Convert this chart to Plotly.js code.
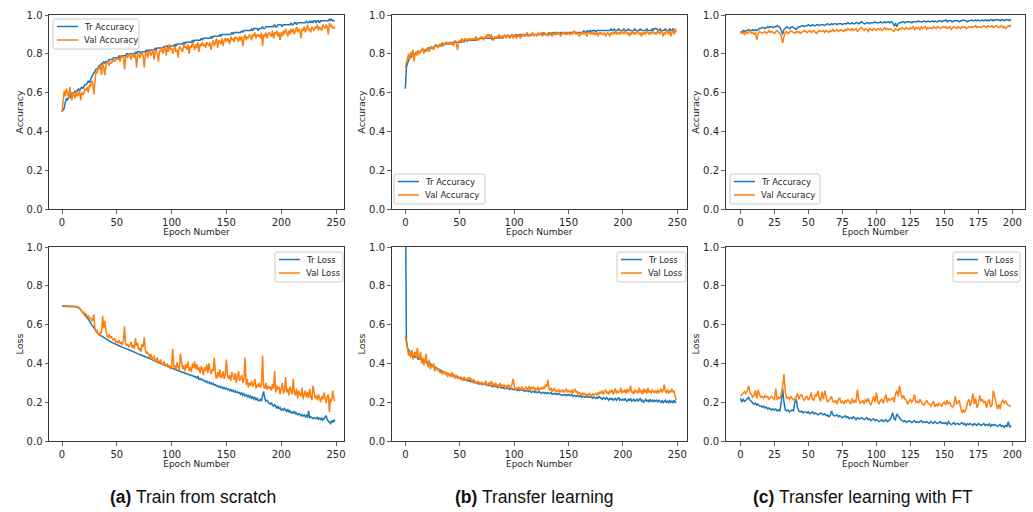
<!DOCTYPE html>
<html>
<head>
<meta charset="utf-8">
<script src="https://cdn.plot.ly/plotly-3.0.1.min.js"></script>
<style>
html,body{margin:0;padding:0;background:#fff;}
#chart{width:1033px;height:512px;}
</style>
</head>
<body>
<div id="chart"></div>
<script>
// ---------- (a) Train from scratch ----------
const trAccA = [
.50,.51,.52,.55,.57,.56,.58,.59,.57,.60,
.59,.60,.61,.60,.61,.62,.61,.62,.63,.62,
.63,.64,.64,.65,.66,.65,.67,.68,.69,.70,
.71,.72,.72,.73,.74,.74,.75,.75,.76,.75,
.76,.76,.76,.77,.77,.77,.77,.78,.78,.78,
.78,.78,.79,.78,.79,.79,.79,.79,.79,.80,
.80,.79,.80,.80,.80,.80,.80,.81,.80,.81,
.81,.81,.80,.81,.81,.81,.81,.82,.81,.82,
.82,.82,.82,.82,.82,.83,.82,.83,.83,.83,
.83,.83,.83,.84,.83,.84,.84,.83,.84,.84,
.84,.84,.84,.85,.84,.85,.85,.85,.85,.85,
.85,.86,.85,.86,.86,.86,.86,.86,.86,.87,
.86,.87,.87,.87,.87,.87,.87,.88,.87,.88,
.88,.88,.88,.88,.88,.88,.89,.88,.89,.89,
.89,.89,.89,.89,.90,.89,.90,.90,.90,.90,
.90,.90,.90,.90,.90,.91,.90,.91,.91,.91,
.91,.91,.91,.91,.92,.91,.92,.92,.92,.92,
.92,.92,.92,.93,.92,.93,.93,.93,.93,.92,
.93,.93,.93,.94,.93,.93,.94,.94,.94,.94,
.94,.94,.94,.94,.95,.94,.94,.95,.95,.95,
.95,.94,.95,.95,.95,.95,.95,.95,.95,.96,
.95,.95,.96,.96,.95,.96,.96,.96,.96,.96,
.96,.96,.96,.97,.96,.96,.97,.96,.97,.96,
.97,.97,.96,.97,.97,.96,.97,.97,.97,.97,
.97,.97,.97,.97,.98,.97,.98,.97,.97,.97];
const valAccA = [
.50,.55,.61,.58,.62,.60,.57,.63,.58,.56,
.60,.58,.57,.61,.58,.59,.61,.56,.60,.59,
.60,.62,.61,.63,.60,.64,.63,.66,.65,.59,
.68,.71,.70,.73,.72,.74,.69,.75,.73,.69,
.74,.76,.75,.74,.76,.75,.76,.77,.76,.77,
.78,.77,.78,.76,.79,.78,.79,.72,.78,.79,
.78,.80,.79,.77,.80,.79,.78,.80,.73,.79,
.80,.78,.80,.81,.79,.73,.80,.81,.78,.80,
.82,.79,.81,.82,.77,.81,.82,.80,.76,.82,
.81,.83,.80,.82,.84,.79,.83,.81,.85,.82,
.83,.80,.82,.84,.81,.82,.78,.84,.83,.82,
.81,.85,.83,.84,.82,.85,.80,.84,.83,.86,
.84,.82,.85,.83,.86,.81,.85,.84,.86,.84,
.85,.83,.86,.85,.84,.86,.82,.85,.87,.84,
.86,.88,.83,.87,.86,.85,.88,.84,.87,.88,
.86,.88,.87,.85,.89,.87,.88,.86,.89,.88,
.88,.86,.89,.87,.89,.84,.88,.90,.87,.89,
.88,.90,.89,.87,.90,.89,.91,.88,.90,.89,
.90,.88,.91,.84,.90,.89,.91,.88,.90,.91,
.90,.89,.92,.88,.91,.90,.92,.89,.91,.87,
.91,.89,.92,.90,.93,.91,.89,.92,.90,.93,
.91,.93,.90,.92,.94,.91,.93,.92,.88,.93,
.92,.94,.91,.93,.95,.92,.93,.91,.94,.93,
.92,.94,.93,.95,.92,.94,.93,.92,.95,.94,
.93,.95,.94,.90,.96,.94,.95,.93,.94,.93];
const trLossA = [
.695,.695,.695,.695,.694,.694,.694,.694,.693,.693,
.693,.692,.692,.691,.69,.688,.683,.675,.668,.66,
.652,.645,.64,.635,.628,.62,.61,.6,.592,.58,
.573,.565,.558,.552,.548,.545,.54,.537,.533,.53,
.526,.523,.52,.515,.512,.51,.506,.503,.5,.497,
.495,.493,.49,.488,.486,.484,.481,.478,.476,.474,
.472,.47,.468,.465,.462,.46,.457,.455,.453,.45,
.448,.446,.444,.442,.44,.437,.434,.432,.43,.428,
.425,.422,.42,.418,.415,.412,.41,.408,.405,.403,
.40,.398,.395,.393,.39,.388,.385,.382,.38,.378,
.376,.374,.372,.37,.367,.365,.362,.36,.358,.356,
.354,.352,.35,.348,.345,.343,.34,.338,.336,.334,
.332,.328,.33,.322,.335,.318,.322,.315,.318,.31,
.312,.305,.308,.30,.304,.296,.30,.292,.297,.288,
.29,.283,.286,.278,.282,.275,.279,.27,.276,.268,
.272,.264,.268,.26,.266,.256,.262,.252,.258,.25,
.254,.246,.25,.24,.248,.236,.244,.232,.238,.228,
.235,.224,.232,.22,.228,.216,.224,.212,.22,.208,
.208,.215,.205,.235,.255,.22,.205,.21,.2,.195,
.19,.198,.185,.18,.188,.175,.17,.18,.165,.172,
.16,.165,.158,.17,.155,.15,.165,.148,.155,.145,
.15,.142,.155,.14,.145,.135,.14,.138,.13,.135,
.128,.135,.125,.132,.12,.155,.118,.125,.12,.115,
.12,.118,.115,.122,.112,.118,.11,.12,.108,.115,
.125,.13,.11,.105,.098,.09,.105,.095,.11,.10];
const valLossA = [
.697,.697,.697,.697,.696,.696,.696,.696,.695,.695,
.695,.694,.694,.693,.692,.69,.685,.678,.668,.66,
.665,.65,.655,.64,.645,.63,.635,.62,.625,.652,
.58,.565,.57,.55,.545,.56,.555,.645,.58,.62,
.57,.54,.535,.55,.53,.54,.525,.52,.53,.51,
.515,.505,.52,.5,.51,.495,.52,.59,.5,.49,
.50,.485,.49,.51,.48,.495,.475,.53,.49,.505,
.47,.48,.46,.50,.485,.535,.47,.45,.46,.44,
.43,.45,.42,.43,.44,.41,.42,.43,.40,.415,
.42,.40,.39,.41,.395,.385,.40,.38,.39,.37,
.39,.475,.38,.39,.37,.405,.38,.365,.45,.39,
.37,.39,.36,.395,.375,.41,.36,.38,.355,.40,
.375,.41,.37,.395,.365,.38,.35,.385,.37,.34,
.38,.36,.395,.35,.40,.365,.345,.37,.36,.43,
.34,.32,.355,.33,.37,.325,.33,.36,.32,.345,
.42,.335,.32,.34,.31,.355,.33,.315,.35,.30,
.33,.36,.31,.325,.34,.30,.315,.43,.29,.32,
.275,.30,.285,.31,.28,.295,.32,.27,.29,.28,
.30,.275,.29,.44,.28,.27,.30,.265,.285,.27,
.28,.26,.295,.27,.36,.25,.285,.265,.28,.24,
.27,.30,.245,.26,.33,.25,.27,.235,.28,.26,
.24,.32,.25,.235,.27,.22,.26,.24,.23,.275,
.215,.24,.26,.225,.25,.22,.27,.23,.21,.285,
.25,.22,.235,.21,.24,.225,.20,.23,.215,.25,
.22,.195,.23,.24,.15,.22,.205,.26,.22,.205];

// ---------- (b) Transfer learning ----------
const trAccB = [
.62,.73,.75,.77,.78,.78,.79,.79,.80,.80,
.80,.81,.81,.81,.81,.82,.82,.82,.82,.82,
.82,.83,.83,.83,.83,.83,.83,.84,.84,.84,
.84,.84,.84,.85,.84,.85,.85,.85,.85,.85,
.85,.85,.86,.85,.86,.86,.86,.86,.86,.86,
.86,.86,.86,.87,.86,.87,.87,.87,.87,.87,
.87,.87,.87,.87,.87,.87,.88,.87,.88,.88,
.88,.88,.88,.88,.88,.88,.88,.88,.88,.88,
.87,.88,.88,.88,.88,.89,.88,.89,.89,.88,
.89,.89,.89,.89,.89,.89,.89,.89,.90,.89,
.89,.90,.89,.90,.89,.90,.90,.89,.90,.90,
.89,.90,.90,.89,.90,.90,.90,.90,.90,.90,
.90,.90,.90,.90,.90,.90,.90,.91,.90,.90,
.90,.90,.91,.90,.90,.91,.90,.91,.91,.90,
.91,.91,.90,.91,.91,.91,.91,.91,.90,.91,
.91,.91,.91,.91,.91,.91,.91,.91,.91,.91,
.91,.91,.91,.91,.92,.91,.91,.92,.91,.92,
.92,.91,.92,.92,.92,.91,.92,.92,.92,.92,
.92,.92,.92,.92,.92,.92,.92,.92,.92,.93,
.92,.92,.93,.92,.92,.92,.93,.92,.92,.92,
.92,.93,.92,.92,.92,.93,.92,.92,.92,.92,
.92,.93,.92,.92,.92,.92,.93,.92,.92,.92,
.92,.92,.93,.92,.92,.92,.92,.93,.92,.93,
.93,.93,.92,.92,.93,.92,.92,.92,.92,.93,
.92,.92,.92,.93,.92,.92,.93,.92,.92,.92];
const valAccB = [
.73,.75,.78,.80,.77,.81,.79,.82,.76,.80,
.81,.79,.82,.80,.81,.82,.83,.80,.82,.81,
.83,.82,.81,.83,.84,.83,.82,.84,.85,.84,
.83,.85,.84,.85,.86,.84,.85,.86,.85,.86,
.85,.86,.85,.86,.84,.86,.87,.85,.82,.86,
.87,.86,.88,.86,.87,.88,.87,.86,.88,.87,
.88,.87,.88,.87,.88,.89,.87,.88,.87,.88,
.89,.88,.87,.89,.88,.90,.89,.90,.88,.90,
.88,.87,.89,.88,.89,.88,.90,.89,.88,.89,
.88,.90,.89,.88,.90,.89,.88,.89,.90,.88,
.89,.90,.88,.89,.90,.89,.88,.90,.89,.90,
.89,.90,.91,.89,.90,.89,.90,.91,.89,.90,
.90,.89,.91,.90,.90,.91,.89,.90,.91,.90,
.90,.89,.90,.91,.90,.89,.91,.90,.90,.91,
.90,.91,.90,.89,.91,.90,.91,.90,.91,.90,
.91,.90,.90,.91,.90,.92,.91,.90,.91,.90,
.89,.91,.90,.91,.90,.91,.90,.89,.91,.91,
.90,.91,.90,.91,.90,.90,.91,.89,.91,.90,
.91,.90,.90,.91,.89,.90,.91,.90,.89,.91,
.90,.91,.90,.92,.90,.91,.90,.91,.90,.92,
.91,.90,.92,.91,.90,.91,.89,.91,.90,.92,
.90,.91,.90,.92,.91,.90,.91,.89,.91,.90,
.91,.90,.92,.91,.90,.91,.90,.92,.91,.90,
.91,.90,.92,.91,.90,.92,.91,.89,.91,.90,
.92,.91,.90,.92,.89,.91,.92,.90,.93,.91];
const trLossB = [
1.35,.52,.48,.47,.46,.45,.45,.44,.44,.43,
.44,.43,.42,.43,.42,.42,.41,.42,.41,.41,
.40,.41,.40,.40,.39,.39,.385,.38,.38,.375,
.37,.37,.365,.36,.36,.355,.355,.35,.35,.345,
.345,.34,.34,.34,.335,.335,.33,.33,.33,.325,
.325,.32,.32,.32,.315,.315,.315,.31,.31,.31,
.305,.31,.305,.30,.305,.30,.30,.295,.30,.295,
.295,.29,.295,.29,.29,.29,.285,.29,.285,.285,
.28,.285,.28,.285,.28,.275,.28,.28,.275,.275,
.275,.27,.275,.27,.275,.27,.265,.27,.27,.265,
.265,.27,.265,.26,.265,.26,.265,.26,.26,.26,
.255,.26,.26,.255,.26,.255,.25,.255,.255,.25,
.255,.25,.25,.255,.25,.245,.25,.25,.245,.25,
.245,.25,.245,.245,.25,.24,.245,.245,.24,.245,
.24,.245,.24,.24,.235,.24,.24,.235,.24,.235,
.24,.235,.235,.24,.23,.235,.235,.23,.235,.23,
.23,.235,.225,.23,.23,.225,.23,.225,.23,.225,
.225,.23,.22,.225,.225,.22,.225,.22,.23,.225,
.22,.215,.225,.22,.215,.225,.22,.21,.22,.215,
.22,.21,.215,.22,.21,.215,.225,.21,.215,.21,
.215,.21,.22,.21,.205,.215,.21,.22,.205,.21,
.215,.205,.21,.215,.205,.21,.22,.205,.21,.2,
.21,.215,.205,.21,.2,.215,.205,.21,.2,.21,
.205,.21,.2,.21,.205,.2,.21,.195,.205,.21,
.2,.205,.195,.21,.2,.205,.195,.21,.2,.205];
const valLossB = [
.54,.50,.47,.44,.46,.43,.47,.42,.45,.46,
.43,.48,.44,.42,.46,.40,.43,.39,.41,.45,
.40,.38,.42,.37,.39,.38,.40,.36,.37,.38,
.36,.37,.35,.36,.345,.35,.36,.34,.355,.33,
.35,.34,.33,.355,.33,.345,.32,.34,.325,.33,
.32,.33,.325,.31,.33,.32,.31,.325,.315,.33,
.31,.32,.30,.315,.31,.295,.305,.31,.29,.30,
.305,.29,.30,.29,.31,.285,.295,.30,.285,.31,
.29,.295,.28,.30,.285,.29,.275,.30,.28,.29,
.28,.29,.27,.285,.28,.29,.27,.28,.29,.32,
.28,.26,.275,.265,.28,.27,.26,.28,.275,.265,
.27,.28,.265,.27,.285,.26,.275,.27,.28,.26,
.27,.265,.28,.26,.27,.275,.265,.28,.27,.29,
.28,.315,.27,.26,.275,.255,.265,.27,.255,.26,
.255,.265,.25,.26,.255,.265,.25,.26,.27,.25,
.26,.255,.25,.265,.245,.26,.27,.25,.255,.24,
.25,.245,.235,.25,.24,.245,.23,.24,.235,.245,
.24,.23,.245,.235,.24,.245,.235,.25,.24,.255,
.245,.26,.24,.25,.265,.245,.255,.24,.26,.25,
.265,.24,.255,.27,.245,.26,.25,.255,.275,.245,
.26,.25,.265,.245,.27,.25,.26,.285,.25,.255,
.24,.265,.25,.26,.245,.275,.25,.26,.24,.27,
.25,.265,.245,.275,.25,.26,.245,.265,.255,.25,
.26,.245,.265,.25,.255,.27,.25,.26,.29,.255,
.25,.265,.245,.26,.25,.27,.25,.26,.23,.21];

// ---------- (c) Transfer learning with FT ----------
const trAccC = [
.915,.91,.92,.915,.92,.92,.925,.92,.92,.925,
.92,.925,.92,.925,.93,.93,.935,.935,.93,.935,
.94,.935,.94,.94,.935,.94,.94,.945,.94,.935,
.92,.90,.925,.935,.94,.935,.93,.935,.94,.935,
.93,.925,.935,.94,.94,.945,.945,.94,.945,.945,
.95,.945,.945,.95,.945,.945,.95,.95,.945,.95,
.95,.95,.945,.95,.955,.95,.95,.955,.95,.955,
.955,.95,.955,.955,.955,.95,.955,.955,.955,.96,
.955,.955,.96,.955,.955,.96,.96,.955,.96,.965,
.96,.955,.955,.96,.96,.955,.96,.96,.96,.965,
.96,.96,.96,.965,.96,.96,.965,.96,.965,.965,
.96,.965,.96,.945,.955,.94,.955,.96,.96,.965,
.965,.96,.965,.965,.965,.965,.96,.965,.965,.965,
.965,.97,.965,.965,.965,.97,.965,.965,.97,.965,
.965,.97,.965,.97,.965,.965,.97,.97,.965,.97,
.97,.975,.965,.97,.97,.97,.965,.97,.97,.97,
.97,.965,.97,.97,.975,.97,.97,.965,.97,.97,
.975,.97,.97,.975,.97,.975,.97,.97,.975,.97,
.975,.97,.975,.97,.975,.975,.97,.975,.975,.975,
.975,.97,.975,.975,.97,.975,.975,.975,.97,.978];
const valAccC = [
.91,.905,.91,.90,.915,.905,.91,.92,.905,.91,
.90,.91,.87,.905,.915,.91,.905,.91,.915,.905,
.91,.92,.91,.915,.91,.905,.915,.92,.91,.905,
.89,.855,.89,.91,.915,.905,.91,.92,.915,.91,
.905,.915,.91,.915,.905,.91,.915,.92,.915,.91,
.915,.92,.91,.915,.92,.91,.905,.915,.92,.915,
.915,.92,.91,.92,.915,.91,.92,.915,.925,.915,
.92,.925,.915,.92,.925,.92,.915,.925,.92,.93,
.925,.92,.93,.92,.925,.93,.915,.925,.93,.935,
.925,.92,.93,.925,.915,.93,.925,.92,.93,.925,
.92,.93,.925,.93,.92,.925,.935,.925,.93,.925,
.93,.925,.92,.915,.93,.925,.92,.93,.925,.935,
.93,.925,.935,.93,.925,.935,.93,.94,.925,.935,
.93,.935,.925,.94,.93,.935,.94,.925,.935,.93,
.935,.93,.94,.935,.93,.94,.935,.93,.935,.94,
.935,.94,.93,.935,.94,.925,.935,.94,.935,.93,
.94,.935,.93,.94,.935,.94,.93,.935,.94,.935,
.94,.935,.94,.945,.935,.94,.94,.935,.94,.945,
.94,.935,.945,.94,.94,.945,.935,.94,.945,.94,
.935,.94,.945,.935,.94,.93,.94,.945,.94,.95];
const trLossC = [
.22,.20,.215,.205,.21,.22,.225,.21,.205,.195,
.19,.195,.185,.19,.18,.18,.175,.18,.17,.175,
.165,.17,.165,.16,.165,.16,.165,.155,.16,.155,
.20,.27,.20,.16,.155,.16,.15,.155,.16,.155,
.20,.215,.17,.155,.15,.155,.145,.15,.15,.145,
.15,.14,.145,.15,.14,.145,.14,.135,.14,.145,
.14,.135,.14,.13,.135,.125,.13,.155,.135,.13,
.13,.135,.125,.13,.125,.12,.125,.13,.12,.125,
.115,.12,.115,.125,.12,.11,.12,.115,.115,.12,
.115,.11,.115,.12,.11,.115,.105,.11,.115,.105,
.11,.105,.10,.105,.11,.10,.105,.11,.10,.105,
.11,.125,.145,.115,.11,.14,.13,.115,.11,.105,
.10,.105,.095,.10,.105,.10,.095,.10,.105,.095,
.10,.095,.10,.105,.095,.10,.095,.10,.095,.09,
.10,.095,.09,.10,.095,.09,.095,.10,.09,.095,
.09,.095,.085,.10,.09,.085,.09,.095,.085,.09,
.09,.085,.09,.095,.085,.09,.08,.09,.085,.09,
.085,.08,.09,.085,.08,.09,.085,.08,.085,.09,
.08,.085,.08,.09,.075,.085,.08,.085,.08,.075,
.08,.085,.075,.08,.07,.08,.075,.10,.07,.08];
const valLossC = [
.23,.24,.25,.255,.245,.26,.285,.25,.24,.225,
.235,.26,.22,.265,.24,.225,.23,.22,.235,.225,
.23,.215,.225,.23,.22,.215,.27,.21,.225,.22,
.24,.28,.345,.25,.22,.225,.215,.23,.22,.21,
.22,.225,.245,.215,.235,.24,.22,.21,.225,.23,
.21,.225,.25,.215,.21,.24,.23,.26,.22,.205,
.255,.215,.26,.22,.20,.21,.215,.23,.205,.20,
.21,.19,.215,.22,.195,.205,.19,.21,.20,.215,
.205,.19,.22,.195,.21,.20,.265,.215,.195,.20,
.21,.19,.215,.20,.22,.195,.185,.21,.23,.20,
.25,.205,.19,.21,.215,.195,.225,.24,.20,.22,
.21,.215,.225,.20,.24,.26,.23,.285,.245,.22,
.235,.215,.21,.19,.205,.215,.20,.21,.24,.20,
.205,.195,.215,.20,.19,.185,.20,.21,.195,.19,
.18,.195,.205,.175,.19,.18,.195,.185,.18,.195,
.20,.185,.21,.19,.20,.18,.175,.185,.23,.19,
.20,.21,.17,.145,.16,.15,.165,.20,.215,.18,
.205,.245,.19,.22,.17,.19,.235,.205,.215,.195,
.205,.17,.20,.215,.175,.185,.26,.225,.185,.165,
.19,.165,.20,.21,.195,.205,.19,.185,.18,.18];

const accNames = ['Tr Accuracy', 'Val Accuracy'];
const lossNames = ['Tr Loss', 'Val Loss'];
const captions = ['<b>(a)</b> Train from scratch', '<b>(b)</b> Transfer learning', '<b>(c)</b> Transfer learning with FT'];
const xTickStep = [50, 50, 25];

// ---------- build ----------
const BLUE = '#1f77b4', ORANGE = '#ff7f0e';
const panels = [
  {tr: trAccA, val: valAccA, names: accNames, ytitle: 'Accuracy'},
  {tr: trAccB, val: valAccB, names: accNames, ytitle: 'Accuracy'},
  {tr: trAccC, val: valAccC, names: accNames, ytitle: 'Accuracy'},
  {tr: trLossA, val: valLossA, names: lossNames, ytitle: 'Loss'},
  {tr: trLossB, val: valLossB, names: lossNames, ytitle: 'Loss'},
  {tr: trLossC, val: valLossC, names: lossNames, ytitle: 'Loss'}
];

const W = 1033, H = 512;
const colPx = [[49, 344], [391.5, 687], [725.5, 1025]];
const rowPx = [[15, 209], [247, 441]];
const xRanges = [[-11.9, 257.3], [-12.7, 258.9], [-11, 209.3]];
// legend boxes in pixels: left, top, width, height
const legendBox = [
  [53, 19, 86, 30],
  [394, 174, 91, 30],
  [730, 174, 90, 30],
  [275, 252, 68, 30],
  [617, 252, 69, 30],
  [953, 252, 67, 30]
];

const AXCOL = '#3a3a3a';
const TXT = '#262626';
const tickFont = {family: 'DejaVu Sans, sans-serif', size: 10, color: TXT};
const xTitleFont = {family: 'DejaVu Sans, sans-serif', size: 9, color: TXT};
const yTitleFont = {family: 'DejaVu Sans, sans-serif', size: 9.5, color: TXT};

const PX = v => v / W;
const PY = v => 1 - v / H;

function roundedRectPath(l, t, w, h, r) {
  const x0 = l, x1 = l + w, y0 = t, y1 = t + h;
  return 'M' + PX(x0 + r) + ',' + PY(y0) +
    ' L' + PX(x1 - r) + ',' + PY(y0) +
    ' Q' + PX(x1) + ',' + PY(y0) + ' ' + PX(x1) + ',' + PY(y0 + r) +
    ' L' + PX(x1) + ',' + PY(y1 - r) +
    ' Q' + PX(x1) + ',' + PY(y1) + ' ' + PX(x1 - r) + ',' + PY(y1) +
    ' L' + PX(x0 + r) + ',' + PY(y1) +
    ' Q' + PX(x0) + ',' + PY(y1) + ' ' + PX(x0) + ',' + PY(y1 - r) +
    ' L' + PX(x0) + ',' + PY(y0 + r) +
    ' Q' + PX(x0) + ',' + PY(y0) + ' ' + PX(x0 + r) + ',' + PY(y0) + ' Z';
}

const traces = [];
const layout = {
  width: W, height: H,
  margin: {l: 0, r: 0, t: 0, b: 0},
  paper_bgcolor: '#ffffff', plot_bgcolor: '#ffffff',
  showlegend: false,
  annotations: [],
  shapes: []
};

panels.forEach((p, i) => {
  const n = i + 1;
  const sfx = n === 1 ? '' : String(n);
  const col = i % 3, row = Math.floor(i / 3);
  const colors = [BLUE, ORANGE];
  [p.tr, p.val].forEach((vals, s) => {
    traces.push({
      x: vals.map((_, k) => k), y: vals, type: 'scatter', mode: 'lines', name: p.names[s],
      line: {color: colors[s], width: 1.5}, xaxis: 'x' + sfx, yaxis: 'y' + sfx,
      showlegend: false
    });
  });
  layout['xaxis' + sfx] = {
    domain: [colPx[col][0] / W, colPx[col][1] / W],
    anchor: 'y' + sfx,
    range: xRanges[col],
    tickmode: 'linear', tick0: 0, dtick: xTickStep[col],
    ticks: 'outside', ticklen: 3.5, tickwidth: 0.8, tickcolor: AXCOL,
    showline: true, linecolor: AXCOL, linewidth: 1, mirror: true,
    showgrid: false, zeroline: false,
    tickfont: tickFont,
    title: {text: 'Epoch Number', font: xTitleFont, standoff: 0}
  };
  layout['yaxis' + sfx] = {
    domain: [1 - rowPx[row][1] / H, 1 - rowPx[row][0] / H],
    anchor: 'x' + sfx,
    range: [0, 1],
    tickmode: 'linear', tick0: 0, dtick: 0.2, tickformat: '.1f',
    ticks: 'outside', ticklen: 3.5, tickwidth: 0.8, tickcolor: AXCOL,
    showline: true, linecolor: AXCOL, linewidth: 1, mirror: true,
    showgrid: false, zeroline: false,
    tickfont: tickFont,
    title: {text: p.ytitle, font: yTitleFont, standoff: 1}
  };
  // legend (box, line samples, labels)
  const [bl, bt, bw, bh] = legendBox[i];
  layout.shapes.push({
    type: 'path', path: roundedRectPath(bl, bt, bw, bh, 2.5),
    xref: 'paper', yref: 'paper', layer: 'above',
    fillcolor: 'rgba(255,255,255,0.8)', line: {color: '#cccccc', width: 1}
  });
  const rowsY = [bt + 7.5, bt + 21];
  p.names.forEach((nm, s) => {
    layout.shapes.push({
      type: 'line', xref: 'paper', yref: 'paper', layer: 'above',
      x0: PX(bl + 4), x1: PX(bl + 25), y0: PY(rowsY[s]), y1: PY(rowsY[s]),
      line: {color: colors[s], width: 1.5}
    });
    layout.annotations.push({
      text: nm, xref: 'paper', yref: 'paper', x: PX(bl + 29), y: PY(rowsY[s]),
      xanchor: 'left', yanchor: 'middle', showarrow: false,
      font: {family: 'DejaVu Sans, sans-serif', size: 8.5, color: TXT}
    });
  });
});

const capLeft = [108, 453, 751];
captions.forEach((c, i) => {
  layout.annotations.push({
    text: c, x: capLeft[i] / W, y: 1 - 497 / H, xref: 'paper', yref: 'paper',
    xanchor: 'left', yanchor: 'middle', showarrow: false,
    font: {family: 'Liberation Sans, Arial, sans-serif', size: 17.5, color: '#111'}
  });
});

Plotly.newPlot('chart', traces, layout, {staticPlot: true, displayModeBar: false});
</script>
</body>
</html>
